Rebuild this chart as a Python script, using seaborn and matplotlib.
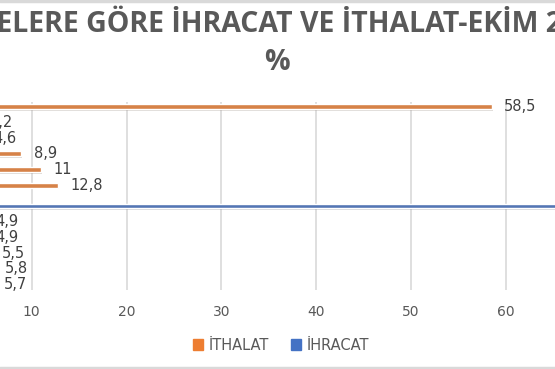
import numpy as np
import pandas as pd
import matplotlib.pyplot as plt
import matplotlib.patheffects as pe
from matplotlib.patches import Patch
import seaborn as sns

# data (country names are cut off in the reference)
ithalat_ulke = ["Diğer (İthalat)", "İthalat 5", "İthalat 4", "İthalat 3", "İthalat 2", "İthalat 1"]
ithalat_pay = [58.5, 4.2, 4.6, 8.9, 11, 12.8]
ihracat_ulke = ["Diğer (İhracat)", "İhracat 5", "İhracat 4", "İhracat 3", "İhracat 2", "İhracat 1"]
ihracat_pay = [73.2, 4.9, 4.9, 5.5, 5.8, 5.7]
seriler = ["İTHALAT", "İHRACAT"]
renkler = ["#ED7D31", "#4472C4"]
baslik = "ÜLKELERE GÖRE İHRACAT VE İTHALAT-EKİM 2020"
alt_baslik = "%"

df = pd.DataFrame({
    "ulke": ithalat_ulke + ihracat_ulke,
    "pay": ithalat_pay + ihracat_pay,
    "seri": [seriler[0]] * len(ithalat_ulke) + [seriler[1]] * len(ihracat_ulke),
})

sns.set_style("white")
plt.rcParams["font.family"] = ["DejaVu Sans"]

fig = plt.figure(figsize=(5.55, 3.69), dpi=100)
ax = fig.add_axes([0, 1 - 289.5 / 369, 1, (289.5 - 101.7) / 369])

sns.barplot(data=df, y="ulke", x="pay", hue="seri", hue_order=seriler,
            palette=renkler, orient="h", dodge=True, width=0.68, gap=0.1,
            legend=False, ax=ax)

for bar in ax.patches:
    bar.set_path_effects([pe.SimplePatchShadow(offset=(0.8, -1.2), alpha=0.18), pe.Normal()])

xmin, xmax = 6.66, 65.17

# data labels
for cont in ax.containers:
    for bar in cont:
        w = bar.get_width()
        if np.isnan(w) or w == 0 or w > xmax:
            continue
        y = bar.get_y() + bar.get_height() / 2
        ax.annotate(f"{w:g}".replace(".", ","), (w, y), xytext=(9, 0),
                    textcoords="offset points", va="center", ha="left",
                    fontsize=10.5, color="#404040", annotation_clip=False)

ax.set_xlim(xmin, xmax)
ax.set_ylim(11.5, -0.5)
ax.set_xticks([10, 20, 30, 40, 50, 60])
ax.tick_params(axis="x", length=0, pad=11, labelsize=10, labelcolor="#595959")
ax.set_yticks([])
ax.set_xlabel("")
ax.set_ylabel("")
ax.grid(axis="x", color="#D9D9D9", linewidth=1.2)
ax.set_axisbelow(True)
for s in ax.spines.values():
    s.set_visible(False)

baslik_font = dict(fontweight="bold", color="#595959", family=["Open Sans", "DejaVu Sans"])
fig.text(275 / 555, 1 - 24 / 369, baslik, ha="center", va="center", fontsize=20.5, **baslik_font)
fig.text(277 / 555, 1 - 62 / 369, alt_baslik, ha="center", va="center", fontsize=20.5, **baslik_font)

handles = [Patch(color=c, label=s) for c, s in zip(renkler, seriler)]
fig.legend(handles=handles, loc="center", bbox_to_anchor=(281 / 555, 1 - 345 / 369),
           ncol=2, frameon=False, fontsize=10.5, labelcolor="#595959",
           handlelength=0.7, handleheight=0.7, handletextpad=0.4, columnspacing=1.5)

# chart border lines top and bottom
fig.add_artist(plt.Line2D([0, 1], [0.997, 0.997], color="#D9D9D9", lw=2.5))
fig.add_artist(plt.Line2D([0, 1], [0.004, 0.004], color="#D9D9D9", lw=2.5))

fig.savefig("out.png", dpi=100)
